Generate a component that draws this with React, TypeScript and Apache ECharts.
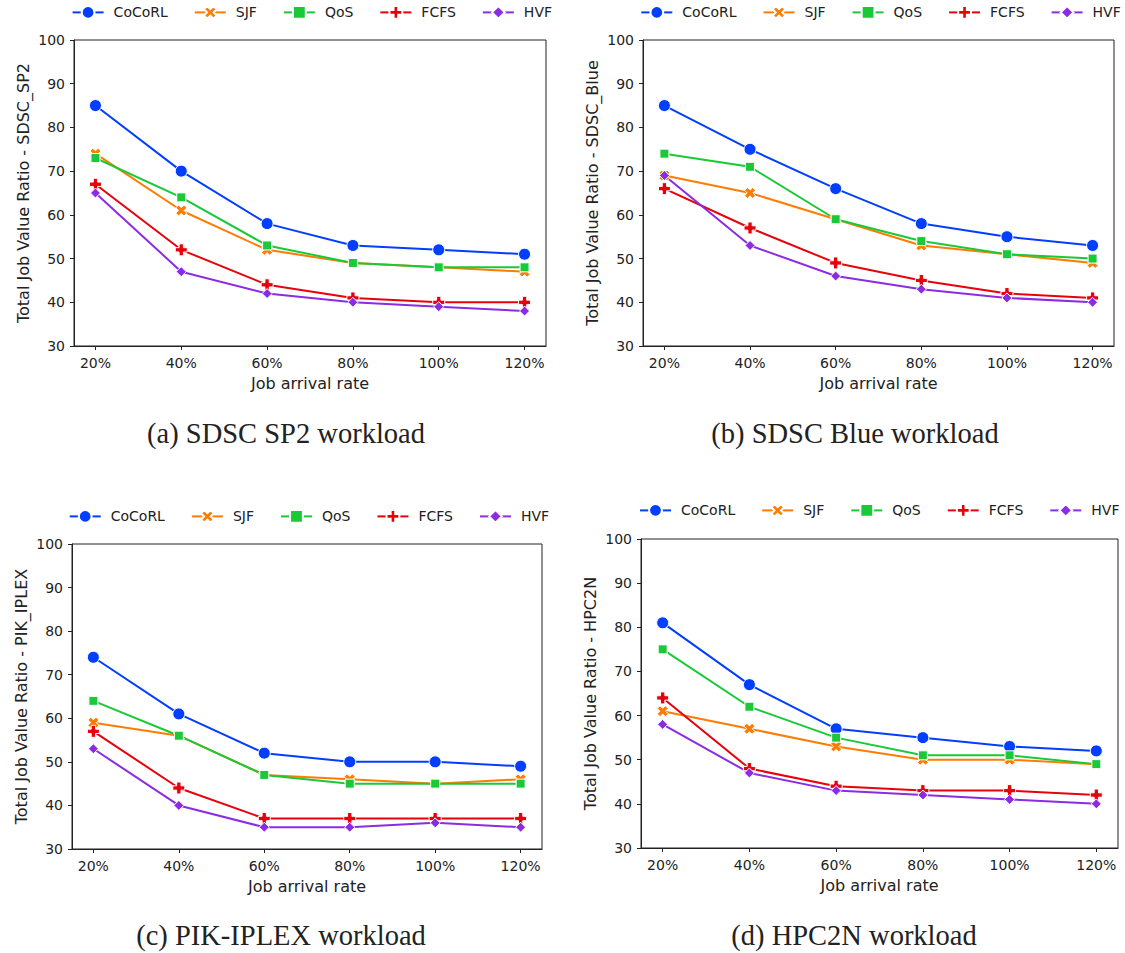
import React, { useEffect, useRef } from "react";
import * as echarts from "echarts";

const categories = ["20%", "40%", "60%", "80%", "100%", "120%"];
const seriesNames = ["CoCoRL", "SJF", "QoS", "FCFS", "HVF"];

// (a) SDSC SP2
const sp2CoCoRL = [85, 70, 58, 53, 52, 51];
const sp2SJF = [74, 61, 52, 49, 48, 47];
const sp2QoS = [73, 64, 53, 49, 48, 48];
const sp2FCFS = [67, 52, 44, 41, 40, 40];
const sp2HVF = [65, 47, 42, 40, 39, 38];

// (b) SDSC Blue
const blueCoCoRL = [85, 75, 66, 58, 55, 53];
const blueSJF = [69, 65, 59, 53, 51, 49];
const blueQoS = [74, 71, 59, 54, 51, 50];
const blueFCFS = [66, 57, 49, 45, 42, 41];
const blueHVF = [69, 53, 46, 43, 41, 40];

// (c) PIK-IPLEX
const pikCoCoRL = [74, 61, 52, 50, 50, 49];
const pikSJF = [59, 56, 47, 46, 45, 46];
const pikQoS = [64, 56, 47, 45, 45, 45];
const pikFCFS = [57, 44, 37, 37, 37, 37];
const pikHVF = [53, 40, 35, 35, 36, 35];

// (d) HPC2N
const hpcCoCoRL = [81, 67, 57, 55, 53, 52];
const hpcSJF = [61, 57, 53, 50, 50, 49];
const hpcQoS = [75, 62, 55, 51, 51, 49];
const hpcFCFS = [64, 48, 44, 43, 43, 42];
const hpcHVF = [58, 47, 43, 42, 41, 40];

const yTicks = { min: 30, max: 100, step: 10 };

const panels = [
  {
    yName: "Total Job Value Ratio - SDSC_SP2",
    caption: "(a) SDSC SP2 workload",
    data: [sp2CoCoRL, sp2SJF, sp2QoS, sp2FCFS, sp2HVF],
    grid: { left: 74, top: 40, width: 472, height: 306 },
    legendLeft: 71.6,
    legendY: 13,
    captionX: 286,
    captionY: 433,
  },
  {
    yName: "Total Job Value Ratio - SDSC_Blue",
    caption: "(b) SDSC Blue workload",
    data: [blueCoCoRL, blueSJF, blueQoS, blueFCFS, blueHVF],
    grid: { left: 643, top: 40, width: 471, height: 306 },
    legendLeft: 640.3,
    legendY: 13,
    captionX: 855,
    captionY: 433,
  },
  {
    yName: "Total Job Value Ratio - PIK_IPLEX",
    caption: "(c) PIK-IPLEX workload",
    data: [pikCoCoRL, pikSJF, pikQoS, pikFCFS, pikHVF],
    grid: { left: 72, top: 544, width: 470, height: 305 },
    legendLeft: 68.7,
    legendY: 517,
    captionX: 281,
    captionY: 935,
  },
  {
    yName: "Total Job Value Ratio - HPC2N",
    caption: "(d) HPC2N workload",
    data: [hpcCoCoRL, hpcSJF, hpcQoS, hpcFCFS, hpcHVF],
    grid: { left: 641, top: 539, width: 477, height: 309 },
    legendLeft: 639,
    legendY: 511,
    captionX: 854,
    captionY: 935,
  },
];

const colors = ["#023eff", "#ff7c00", "#1ac938", "#e8000b", "#8b2be2"];
const X_PATH =
  "path://M0,2.6 L2.6,0 L5,2.4 L7.4,0 L10,2.6 L7.6,5 L10,7.4 L7.4,10 L5,7.6 L2.6,10 L0,7.4 L2.4,5 Z";
const P_PATH =
  "path://M3.2,0 L6.8,0 L6.8,3.2 L10,3.2 L10,6.8 L6.8,6.8 L6.8,10 L3.2,10 L3.2,6.8 L0,6.8 L0,3.2 L3.2,3.2 Z";
const symbols = ["circle", X_PATH, "rect", P_PATH, "diamond"];
const symbolSizes = [12, 11, 9, 12, 10];

const FONT = "DejaVu Sans";
const INK = "#222";

export default function App() {
  const ref = useRef<HTMLDivElement>(null);

  useEffect(() => {
    if (!ref.current) return;
    const chart = echarts.init(ref.current, null, { renderer: "svg" });

    const grid = panels.map((p) => ({
      ...p.grid,
      show: true,
      borderColor: INK,
      borderWidth: 1,
      backgroundColor: "transparent",
      containLabel: false,
      outerBoundsMode: "none",
    }));

    const xAxis = panels.map((p, i) => ({
      type: "value",
      gridIndex: i,
      min: -0.25,
      max: 5.25,
      splitLine: { show: false },
      axisLine: { show: true, onZero: false, lineStyle: { color: INK, width: 1 } },
      axisTick: {
        show: true,
        length: 4,
        lineStyle: { color: INK },
        customValues: [0, 1, 2, 3, 4, 5],
      },
      axisLabel: {
        customValues: [0, 1, 2, 3, 4, 5],
        formatter: (v: number) => categories[Math.round(v)] ?? "",
        fontSize: 14,
        fontFamily: FONT,
        color: INK,
        margin: 10,
      },
      name: "Job arrival rate",
      nameLocation: "middle",
      nameGap: 29,
      nameTextStyle: { fontSize: 16, fontFamily: FONT, color: INK },
    }));

    const yAxis = panels.map((p, i) => ({
      type: "value",
      gridIndex: i,
      min: yTicks.min,
      max: yTicks.max,
      interval: yTicks.step,
      splitLine: { show: false },
      axisLine: { show: true, onZero: false, lineStyle: { color: INK, width: 1 } },
      axisTick: { show: true, length: 4, lineStyle: { color: INK } },
      axisLabel: {
        fontSize: 14,
        fontFamily: FONT,
        color: INK,
        margin: 9,
      },
      name: p.yName,
      nameLocation: "middle",
      nameRotate: 90,
      nameGap: 43,
      nameTextStyle: { fontSize: 16, fontFamily: FONT, color: INK },
    }));

    const series: any[] = [];
    panels.forEach((p, pi) => {
      p.data.forEach((vals, si) => {
        series.push({
          type: "line",
          name: seriesNames[si],
          xAxisIndex: pi,
          yAxisIndex: pi,
          data: vals.map((v, i) => [i, v]),
          symbol: symbols[si],
          symbolSize: symbolSizes[si],
          showAllSymbol: true,
          lineStyle: { color: colors[si], width: 2 },
          itemStyle: {
            color: colors[si],
            borderColor: "#ffffff",
            borderWidth: 1,
          },
          emphasis: { disabled: true },
        });
      });
    });

    const legend = panels.map((p) => ({
      left: p.legendLeft,
      top: p.legendY - 8,
      width: 484,
      padding: 0,
      itemWidth: 31,
      itemHeight: 16,
      itemGap: 26,
      selectedMode: false,
      textStyle: {
        fontSize: 14,
        fontFamily: FONT,
        color: INK,
        padding: [0, 0, 0, 5],
      },
      data: seriesNames,
    }));

    const graphic = panels.map((p) => ({
      type: "text",
      x: p.captionX,
      y: p.captionY,
      style: {
        text: p.caption,
        fontSize: 28.5,
        fontFamily: "Liberation Serif",
        fill: INK,
        textAlign: "center",
        textVerticalAlign: "middle",
        align: "center",
        verticalAlign: "middle",
      },
    }));

    chart.setOption({
      animation: false,
      backgroundColor: "#ffffff",
      textStyle: { fontFamily: FONT },
      grid,
      xAxis,
      yAxis,
      series,
      legend,
      graphic,
    });

    return () => {
      chart.dispose();
    };
  }, []);

  return (
    <div
      ref={ref}
      style={{
        position: "absolute",
        left: 0,
        top: 0,
        width: 1125,
        height: 953,
        background: "#fff",
      }}
    />
  );
}
